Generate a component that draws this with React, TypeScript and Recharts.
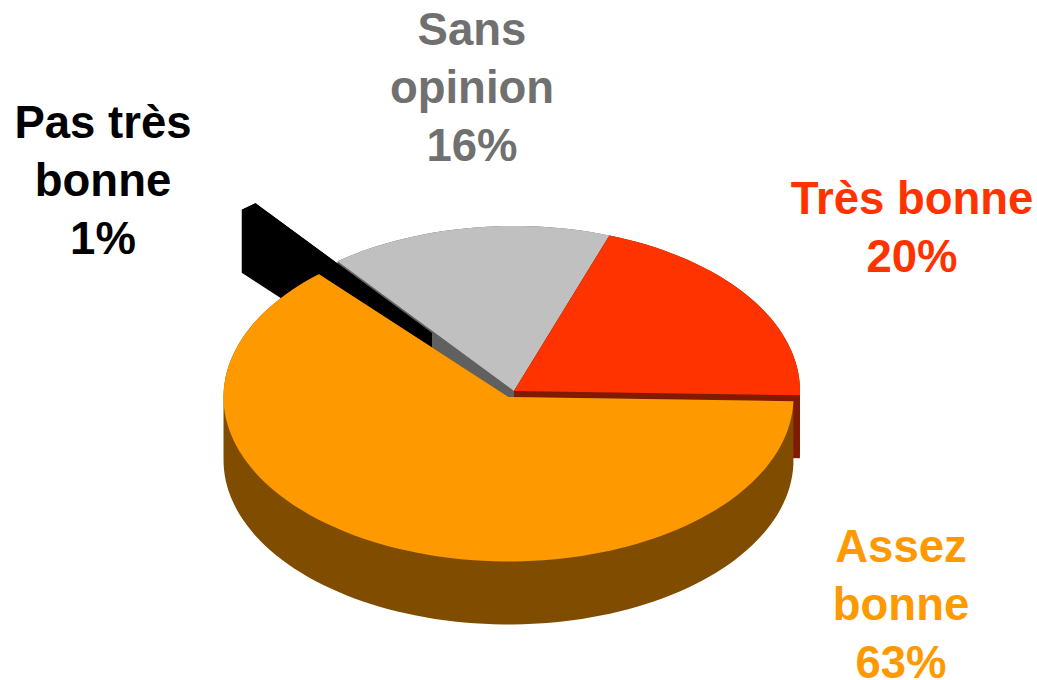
import React from 'react'
import { PieChart, Pie } from 'recharts'

const categories = ['Pas très bonne', 'Sans opinion', 'Très bonne', 'Assez bonne']
const shares = [1, 16, 20, 63]
const labelLines = [['Pas très', 'bonne'], ['Sans', 'opinion'], ['Très bonne'], ['Assez', 'bonne']]

const chartData = categories.map((name, i) => ({ name, value: shares[i] }))

const topColors = ['#000000', '#C0C0C0', '#FF3300', '#FF9900']
const wallColors = ['#000000', '#606060', '#801A00', '#804D00']
const textColors = ['#000000', '#707070', '#FF3300', '#FF9900']

// painted back to front, the orange slice sits over everything
const layers = [
  { index: 1, cx: 514, cy: 391, r: 286 },
  { index: 2, cx: 514, cy: 391, r: 286 },
  { index: 0, cx: 432, cy: 333, r: 286 },
  { index: 3, cx: 508.5, cy: 397, r: 285 },
]
const labelSpots = [
  { x: 103, y: 138 },
  { x: 472, y: 45 },
  { x: 912, y: 214 },
  { x: 901, y: 562 },
]

const FLATTEN = 0.577
const DEPTH = 63
const RAD = Math.PI / 180

function outline(cx: number, cy: number, r: number, start: number, end: number) {
  const pts: [number, number][] = [[cx, cy]]
  const steps = Math.max(2, Math.ceil(Math.abs(start - end) / 2))
  for (let i = 0; i <= steps; i++) {
    const a = (start + ((end - start) * i) / steps) * RAD
    pts.push([cx + r * Math.cos(a), cy - r * FLATTEN * Math.sin(a)])
  }
  return pts
}

function polyPath(pts: [number, number][]) {
  return 'M' + pts.map((p) => `${p[0].toFixed(2)},${p[1].toFixed(2)}`).join('L') + 'Z'
}

function wallPath(pts: [number, number][]) {
  let d = polyPath(pts.map((p) => [p[0], p[1] + DEPTH] as [number, number]))
  pts.forEach((p, i) => {
    const q = pts[(i + 1) % pts.length]
    const [a, b] = p[0] <= q[0] ? [p, q] : [q, p]
    d += polyPath([a, b, [b[0], b[1] + DEPTH], [a[0], a[1] + DEPTH]])
  })
  return d
}

function makeSlice(layerIndex: number) {
  return function Slice(props: any) {
    if (props.name !== categories[layerIndex]) return <g />
    const pts = outline(props.cx, props.cy, props.outerRadius, props.startAngle, props.endAngle)
    return (
      <g>
        <path d={wallPath(pts)} fill={wallColors[layerIndex]} />
        <path d={polyPath(pts)} fill={topColors[layerIndex]} />
      </g>
    )
  }
}

function renderLabel(props: any) {
  const i = categories.indexOf(props.name)
  const spot = labelSpots[i]
  const lines = [...labelLines[i], `${shares[i]}%`]
  return (
    <text
      key={props.name}
      x={spot.x}
      y={spot.y}
      textAnchor="middle"
      fill={textColors[i]}
      fontFamily="Liberation Sans, Arial, sans-serif"
      fontWeight="bold"
      fontSize={45.5}
    >
      {lines.map((line, n) => (
        <tspan key={n} x={spot.x} y={spot.y + n * 58}>
          {line}
        </tspan>
      ))}
    </text>
  )
}

export default function App() {
  return (
    <div style={{ position: 'absolute', left: 0, top: 0 }}>
      <PieChart width={1037} height={680} margin={{ top: 0, right: 0, bottom: 0, left: 0 }}>
        {layers.map((layer, n) => (
          <Pie
            key={layer.index}
            data={chartData}
            dataKey="value"
            nameKey="name"
            cx={layer.cx}
            cy={layer.cy}
            innerRadius={0}
            outerRadius={layer.r}
            startAngle={131.7}
            endAngle={-228.3}
            stroke="none"
            isAnimationActive={false}
            shape={makeSlice(layer.index)}
            label={n === layers.length - 1 ? renderLabel : false}
            labelLine={false}
          />
        ))}
      </PieChart>
    </div>
  )
}
